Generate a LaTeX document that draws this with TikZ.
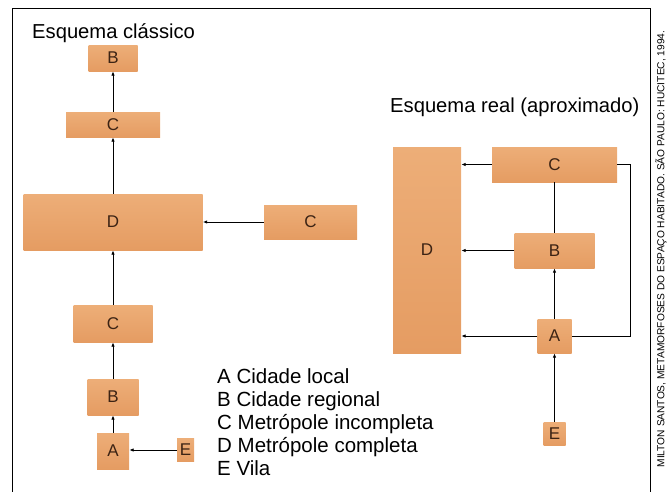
\documentclass[tikz,border=0pt]{standalone}
\usepackage{fontspec}
\setmainfont{Liberation Sans}
\usetikzlibrary{arrows.meta}
\definecolor{boxtop}{RGB}{237,174,120}
\definecolor{boxbot}{RGB}{229,156,98}
\definecolor{boxtext}{RGB}{60,35,20}

\begin{document}
\begin{tikzpicture}[x=1pt, y=-1pt]
\tikzstyle{city}=[rectangle, inner sep=0pt, top color=boxtop, bottom color=boxbot, text=boxtext, font=\fontsize{17}{17}\selectfont]
\tikzstyle{link}=[line width=0.9pt, -{Latex[length=4.5pt, width=3.5pt]}]
\tikzstyle{title}=[anchor=base west, inner sep=0pt, font=\fontsize{20.2}{22}\selectfont]
\tikzstyle{legend}=[anchor=base west, inner sep=0pt, font=\fontsize{20.5}{22}\selectfont]
\useasboundingbox (0,0) rectangle (670,491);
\draw[line width=0.8pt] (12,495) -- (12,8) -- (650,8) -- (650,495);

% esquema classico
\node[title] (t1) at (32,38) {Esquema clássico};
\node[city, minimum width=49pt, minimum height=26pt] (B1) at (113,58) {B};
\node[city, minimum width=94pt, minimum height=25pt] (C1) at (113,124.5) {C};
\node[city, minimum width=179pt, minimum height=56pt] (D1) at (113,222) {D};
\node[city, minimum width=93pt, minimum height=34pt] (C2) at (310.5,222) {C};
\node[city, minimum width=79pt, minimum height=37pt] (C3) at (113,323.5) {C};
\node[city, minimum width=51pt, minimum height=36pt] (B2) at (113,397) {B};
\node[city, minimum width=32pt, minimum height=36pt] (A1) at (113,451) {A};
\node[city, minimum width=17pt, minimum height=23pt] (E1) at (185.5,450) {E};
\draw[link] (C1) -- (B1);
\draw[link] (D1) -- (C1);
\draw[link] (C2) -- (D1);
\draw[link] (C3) -- (D1);
\draw[link] (B2) -- (C3);
\draw[link] (A1) -- (B2);
\draw[link] (E1.west) -- (E1.west -| A1.east);

% esquema real
\node[title] (t2) at (390,112) {Esquema real (aproximado)};
\node[city, minimum width=68pt, minimum height=206pt] (Dr) at (427,250) {D};
\node[city, minimum width=125pt, minimum height=35pt] (Cr) at (554.5,164.5) {C};
\node[city, minimum width=80pt, minimum height=35pt] (Br) at (554.5,250.5) {B};
\node[city, minimum width=34pt, minimum height=34pt] (Ar) at (554.5,336) {A};
\node[city, minimum width=22pt, minimum height=23pt] (Er) at (554.5,433.5) {E};
\coordinate (loop) at (630,164.5);
\draw[link] (Cr) -- (Cr -| Dr.east);
\draw[link] (Br) -- (Br -| Dr.east);
\draw[link] (Ar) -- (Ar -| Dr.east);
\draw[line width=0.9pt] (Cr) -- (Br);
\draw[link] (Ar) -- (Br);
\draw[link] (Er) -- (Ar);
\draw[line width=0.9pt] (Cr.east) -- (loop) |- (Ar.east);

% legenda
\node[legend] (lA) at (217,383) {A Cidade local};
\node[legend] (lB) at (217,406) {B Cidade regional};
\node[legend] (lC) at (217,429) {C Metrópole incompleta};
\node[legend] (lD) at (217,452) {D Metrópole completa};
\node[legend] (lE) at (217,475) {E Vila};

% fonte
\node[rotate=90, inner sep=0pt, font=\fontsize{10.2}{11}\selectfont] (src) at (661,249) {MILTON SANTOS, METAMORFOSES DO ESPAÇO HABITADO. SÃO PAULO: HUCITEC, 1994.};
\end{tikzpicture}
\end{document}
